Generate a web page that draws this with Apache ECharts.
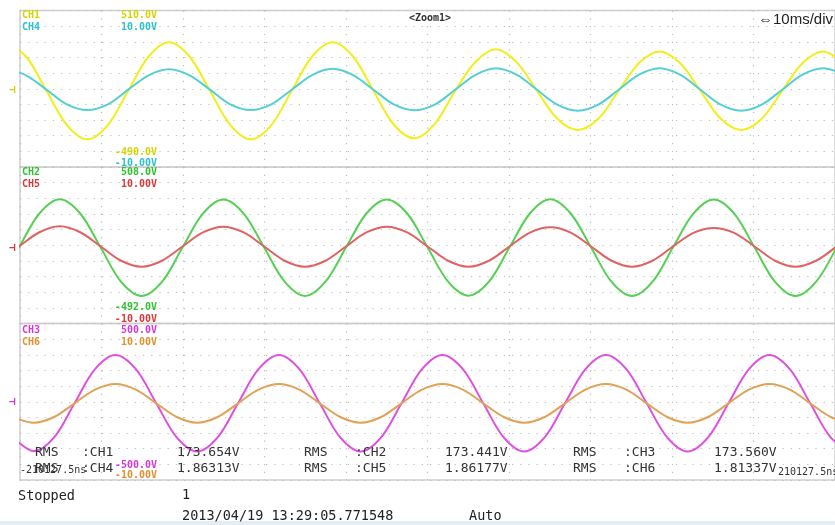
<!DOCTYPE html>
<html>
<head>
<meta charset="utf-8">
<script src="https://cdn.jsdelivr.net/npm/echarts@6/dist/echarts.min.js"></script>
<style>
html,body{margin:0;padding:0;background:#fff;}
#c{width:835px;height:525px;}
</style>
</head>
<body>
<div id="c"></div>
<script>
// ---- time bases (ms): 10 ms/div ----
const panel1Time = [-1.77, 0.74, 3.25, 5.75, 8.26, 10.77, 13.28, 15.78, 18.29, 20.80, 23.31, 25.81, 28.32, 30.83, 33.34, 35.84, 38.35, 40.86, 43.37, 45.87, 48.38, 50.89, 53.40, 55.90, 58.41, 60.92, 63.43, 65.93, 68.44, 70.95, 73.46, 75.96, 78.47, 80.98, 83.49, 85.99, 88.50, 91.01, 93.52, 96.02, 98.53, 101.04];
const panel2Time = [-2.64, -0.13, 2.38, 4.88, 7.39, 9.90, 12.41, 14.91, 17.42, 19.93, 22.44, 24.94, 27.45, 29.96, 32.47, 34.97, 37.48, 39.99, 42.50, 45.00, 47.51, 50.02, 52.53, 55.03, 57.54, 60.05, 62.56, 65.06, 67.57, 70.08, 72.59, 75.09, 77.60, 80.11, 82.62, 85.12, 87.63, 90.14, 92.65, 95.15, 97.66, 100.17];
const panel3Time = [-0.83, 1.68, 4.19, 6.69, 9.20, 11.71, 14.22, 16.72, 19.23, 21.74, 24.25, 26.75, 29.26, 31.77, 34.28, 36.78, 39.29, 41.80, 44.31, 46.81, 49.32, 51.83, 54.34, 56.84, 59.35, 61.86, 64.37, 66.87, 69.38, 71.89, 74.40, 76.90, 79.41, 81.92, 84.43, 86.93, 89.44, 91.95, 94.46, 96.96, 99.47, 101.98];

// ---- channel values (V) ----
const ch1Volts = [307, 216, -3, -222, -313, -222, -3, 216, 307, 216, -3, -222, -313, -222, -3, 216, 307, 216, -3, -220, -307, -215, -3, 183, 262, 180, -3, -182, -254, -182, -3, 174, 248, 174, -3, -182, -254, -182, -3, 174, 248, 174];
const ch4Volts = [2.50, 1.72, -0.12, -2.00, -2.72, -2.00, -0.12, 1.72, 2.50, 1.72, -0.12, -2.00, -2.72, -2.00, -0.12, 1.75, 2.55, 1.75, -0.12, -2.00, -2.75, -2.02, -0.12, 1.78, 2.62, 1.80, -0.12, -2.04, -2.82, -2.04, -0.12, 1.80, 2.62, 1.80, -0.12, -2.04, -2.82, -2.04, -0.12, 1.80, 2.62, 1.80];
const ch2Volts = [-226, -7, 211, 302, 211, -7, -226, -316, -226, -7, 210, 300, 210, -7, -225, -316, -225, -7, 211, 301, 211, -7, -224, -314, -225, -7, 211, 302, 211, -7, -226, -316, -226, -7, 210, 300, 210, -7, -226, -316, -226, -7];
const ch5Volts = [-1.98, -0.16, 1.66, 2.44, 1.66, -0.16, -1.98, -2.74, -1.98, -0.16, 1.64, 2.38, 1.64, -0.16, -1.98, -2.74, -1.98, -0.16, 1.64, 2.38, 1.64, -0.16, -1.98, -2.74, -1.98, -0.16, 1.62, 2.30, 1.62, -0.16, -1.98, -2.74, -1.98, -0.16, 1.58, 2.22, 1.58, -0.16, -1.98, -2.74, -1.98, -0.16];
const ch3Volts = [-228, -316, -228, -10, 208, 299, 208, -10, -228, -318, -228, -10, 208, 299, 208, -10, -228, -318, -228, -10, 208, 299, 208, -10, -228, -318, -228, -10, 208, 299, 208, -10, -228, -318, -228, -10, 208, 299, 208, -10, -228, -318];
const ch6Volts = [-1.95, -2.68, -1.95, -0.20, 1.55, 2.27, 1.55, -0.20, -1.95, -2.68, -1.95, -0.20, 1.55, 2.27, 1.55, -0.20, -1.95, -2.68, -1.95, -0.20, 1.55, 2.27, 1.55, -0.20, -1.95, -2.68, -1.95, -0.20, 1.55, 2.27, 1.55, -0.20, -1.95, -2.68, -1.95, -0.20, 1.55, 2.27, 1.55, -0.20, -1.95, -2.68];

// ---- axis ranges per channel (CH1, CH4, CH2, CH5, CH3, CH6) ----
const channelNames = ['CH1', 'CH4', 'CH2', 'CH5', 'CH3', 'CH6'];
const axisMin = [-490, -10, -492, -10, -500, -10];
const axisMax = [510, 10, 508, 10, 500, 10];
const topLabels = ['510.0V', '10.00V', '508.0V', '10.00V', '500.0V', '10.00V'];
const bottomLabels = ['-490.0V', '-10.00V', '-492.0V', '-10.00V', '-500.0V', '-10.00V'];

// ---- measurement table ----
const rmsChannels = [[':CH1', ':CH2', ':CH3'], [':CH4', ':CH5', ':CH6']];
const rmsValues = [['173.654V', '173.441V', '173.560V'], ['1.86313V', '1.86177V', '1.81337V']];

const traceColors = ['#f2ee1c', '#55cfd4', '#55d055', '#e06262', '#de50e0', '#e0a256'];
const textColors = ['#d6d400', '#2fc2cc', '#2fc42f', '#d83a3a', '#d63ad6', '#e0922e'];

const chart = echarts.init(document.getElementById('c'), null, {renderer: 'canvas'});

const gridTops = [10.5, 167, 323.5];
const gridH = 156.5;
const mono = '"DejaVu Sans Mono", monospace';

const grids = gridTops.map(t => ({left: 20, top: t, width: 820, height: gridH, show: true, borderColor: '#cfcfcf', borderWidth: 1.5, backgroundColor: 'transparent'}));
const xAxes = [0, 1, 2].map(i => ({
  type: 'value', gridIndex: i, min: 0, max: 100, interval: 10,
  axisLine: {show: false}, axisTick: {show: false}, axisLabel: {show: false},
  splitLine: {show: true, lineStyle: {color: '#bcbcbc', width: 1.2, type: [1.2, 6.6]}}
}));
const yAxes = axisMin.map((mn, i) => {
  const primary = i % 2 === 0;
  return {
    type: 'value', gridIndex: Math.floor(i / 2), min: mn, max: axisMax[i],
    interval: primary ? 100 : 2, position: primary ? 'left' : 'right',
    axisLine: {show: false}, axisTick: {show: false}, axisLabel: {show: false},
    splitLine: {show: primary, lineStyle: {color: '#bcbcbc', width: 1.2, type: [1.2, 7]}}
  };
});

const times = [panel1Time, panel1Time, panel2Time, panel2Time, panel3Time, panel3Time];
const volts = [ch1Volts, ch4Volts, ch2Volts, ch5Volts, ch3Volts, ch6Volts];
const series = volts.map((v, i) => ({
  name: channelNames[i], type: 'line', xAxisIndex: Math.floor(i / 2), yAxisIndex: i,
  data: times[i].map((t, j) => [t, v[j]]),
  smooth: 0.33, showSymbol: false, clip: true,
  lineStyle: {color: traceColors[i], width: 2}, z: 3
}));

const graphics = [];
function txt(x, y, s, opts) {
  graphics.push({type: 'text', x: x, y: y, z: 100, silent: true,
    style: Object.assign({text: s, fill: '#333', font: '13px ' + mono, textAlign: 'left', textVerticalAlign: 'middle'}, opts || {})});
}
// channel labels and scale values
const labelY = [[15, 27, 152, 163], [172, 184, 307.5, 319], [330, 342, 465, 475]];
for (let p = 0; p < 3; p++) {
  for (let c = 0; c < 2; c++) {
    const i = p * 2 + c;
    const f = 'bold 10px ' + mono;
    txt(22, labelY[p][c], channelNames[i], {fill: textColors[i], font: f});
    txt(157, labelY[p][c], topLabels[i], {fill: textColors[i], font: f, textAlign: 'right'});
    txt(157, labelY[p][2 + c], bottomLabels[i], {fill: textColors[i], font: f, textAlign: 'right'});
  }
}
txt(430, 18, '<Zoom1>', {font: 'bold 10px ' + mono, textAlign: 'center', fill: '#333'});
txt(833, 20, '\u21d410ms/div', {font: '15px "Liberation Sans", Arial, sans-serif', textAlign: 'right', fill: '#222'});
// zero markers
txt(9, 90, '\u22a3', {font: 'bold 11px ' + mono, fill: textColors[0]});
txt(9, 248, '\u22a3', {font: 'bold 11px ' + mono, fill: textColors[3]});
txt(9, 402, '\u22a3', {font: 'bold 11px ' + mono, fill: textColors[4]});
// time stamps
txt(20, 470, '-210127.5ns', {font: '10px ' + mono, fill: '#333'});
txt(778, 472, '210127.5ns', {font: '10px ' + mono, fill: '#333'});
// RMS table
const rowY = [453, 469];
const colX = [[35, 82, 177], [304, 355, 445], [573, 624, 714]];
for (let r = 0; r < 2; r++) {
  for (let c = 0; c < 3; c++) {
    txt(colX[c][0], rowY[r], 'RMS');
    txt(colX[c][1], rowY[r], rmsChannels[r][c]);
    txt(colX[c][2], rowY[r], rmsValues[r][c]);
  }
}
// status
txt(18, 496, 'Stopped', {font: '13.5px ' + mono, fill: '#222'});
txt(182, 495, '1', {font: '13.5px ' + mono, fill: '#222'});
txt(182, 516, '2013/04/19 13:29:05.771548', {font: '13.5px ' + mono, fill: '#222'});
txt(469, 516, 'Auto', {font: '13.5px ' + mono, fill: '#222'});
graphics.push({type: 'rect', z: 99, silent: true, shape: {x: 0, y: 521, width: 835, height: 4}, style: {fill: '#e4ecf4'}});

chart.setOption({
  animation: false,
  backgroundColor: '#ffffff',
  grid: grids,
  xAxis: xAxes,
  yAxis: yAxes,
  series: series,
  graphic: graphics
});
</script>
</body>
</html>
